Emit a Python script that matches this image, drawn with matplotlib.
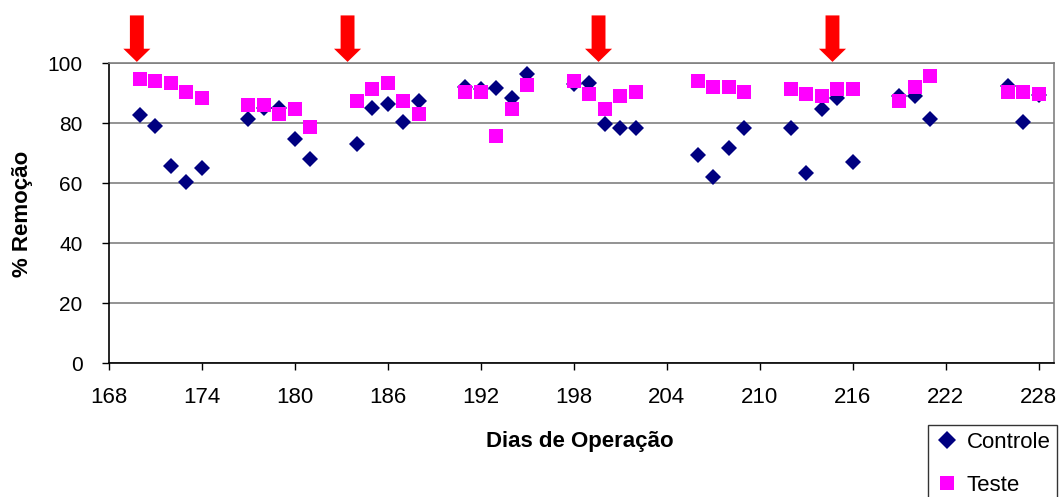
import matplotlib
matplotlib.use('Agg')
import matplotlib.pyplot as plt

plt.rcParams['font.family'] = ['Liberation Sans', 'DejaVu Sans']

# dados
dias = [170, 171, 172, 173, 174, 177, 178, 179, 180, 181,
        184, 185, 186, 187, 188, 191, 192, 193, 194, 195,
        198, 199, 200, 201, 202, 206, 207, 208, 209, 212,
        213, 214, 215, 216, 219, 220, 221, 226, 227, 228]
controle = [82.7, 79.2, 65.8, 60.6, 65.1, 81.4, 85.0, 85.0, 74.7, 68.1,
            73.2, 85.0, 86.5, 80.6, 87.5, 92.0, 91.5, 91.7, 88.4, 96.4,
            93.0, 93.6, 79.8, 78.4, 78.4, 69.5, 62.3, 71.9, 78.4, 78.4,
            63.6, 84.8, 88.4, 67.3, 89.2, 89.0, 81.4, 92.5, 80.6, 89.5]
teste = [94.9, 94.3, 93.6, 90.6, 88.4, 86.2, 86.2, 83.2, 84.7, 78.7,
         87.6, 91.4, 93.5, 87.6, 83.2, 90.6, 90.6, 75.8, 84.7, 92.8,
         94.3, 89.8, 84.7, 89.2, 90.6, 94.3, 92.1, 92.1, 90.6, 91.4,
         89.8, 89.2, 91.4, 91.4, 87.6, 92.1, 95.8, 90.6, 90.6, 89.8]
setas = [169.8, 183.4, 199.6, 214.7]  # dias marcados com seta
xticks = list(range(168, 229, 6))
yticks = [0, 20, 40, 60, 80, 100]

fig = plt.figure(figsize=(10.62, 4.97), dpi=100)
ax = fig.add_axes([0.1026, 0.2688, 0.8899, 0.6036])

ax.plot(dias, controle, linestyle='none', marker='D', markersize=8.3,
        color='#000080', markeredgewidth=0, label='Controle', zorder=3)
ax.plot(dias, teste, linestyle='none', marker='s', markersize=9.4,
        color='#FF00FF', markeredgewidth=0, label='Teste', zorder=4)

for d in setas:
    ax.annotate('', xy=(d, 1.005), xycoords=('data', 'axes fraction'),
                xytext=(d, 1.16), textcoords=('data', 'axes fraction'),
                arrowprops=dict(width=10, headwidth=19.5, headlength=9.5,
                                shrink=0, color='#FF0000', linewidth=0),
                annotation_clip=False)

ax.set_xlim(168, 229)
ax.set_ylim(0, 100)
ax.set_xticks(xticks)
ax.set_yticks(yticks)
ax.tick_params(axis='both', direction='out', length=5, width=1)
ax.tick_params(axis='x', labelsize=16, pad=12)
ax.tick_params(axis='y', labelsize=15, pad=14)
ax.yaxis.grid(True, color='#808080', linewidth=1.2)
ax.set_axisbelow(True)

ax.spines['left'].set_color('black')
ax.spines['bottom'].set_color('black')
ax.spines['top'].set_color('#808080')
ax.spines['right'].set_color('#808080')
for s in ax.spines.values():
    s.set_linewidth(1.2)

ax.set_xlabel('Dias de Operação', fontsize=16, fontweight='bold', va='center')
ax.xaxis.set_label_coords(0.498, -0.261)
ax.set_ylabel('% Remoção', fontsize=16, fontweight='bold', va='center')
ax.yaxis.set_label_coords(-0.092, 0.5)

leg = fig.legend(loc='upper left', bbox_to_anchor=(928 / 1062, 1 - 425 / 497),
                 fontsize=16, frameon=True, fancybox=False, borderpad=0.3,
                 handlelength=1.1, handletextpad=0.35, labelspacing=1.0,
                 borderaxespad=0, numpoints=1, markerscale=1.05)
leg.get_frame().set_edgecolor('black')
leg.get_frame().set_linewidth(1)

fig.savefig('out.png', dpi=100)
